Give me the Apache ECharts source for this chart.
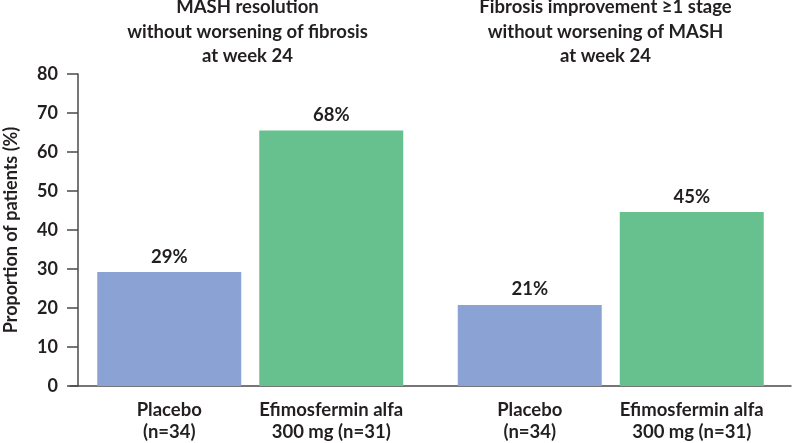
<!DOCTYPE html>
<html>
<head>
<meta charset="utf-8">
<script src="https://cdn.jsdelivr.net/npm/echarts@6/dist/echarts.min.js"></script>
<style>
html,body{margin:0;padding:0;background:#fff;}
#chart{width:798px;height:443px;}
</style>
</head>
<body>
<div id="chart"></div>
<script>
// ---- data ----
var groups = ['MASH resolution\nwithout worsening of fibrosis\nat week 24',
              'Fibrosis improvement ≥1 stage\nwithout worsening of MASH\nat week 24'];
var placeboValues = [29.2, 20.8];
var efimoValues = [65.5, 44.6];
var placeboLabels = ['29%', '21%'];
var efimoLabels = ['68%', '45%'];
var placeboNames = ['Placebo\n(n=34)', 'Placebo\n(n=34)'];
var efimoNames = ['Efimosfermin alfa\n300 mg (n=31)', 'Efimosfermin alfa\n300 mg (n=31)'];
var yTicks = [0, 10, 20, 30, 40, 50, 60, 70, 80];
var yName = 'Proportion of patients (%)';

var FONT = 'Lato';
var INK = '#231f20';
var BLUE = '#8aa3d4';
var GREEN = '#67c18e';

var chart = echarts.init(document.getElementById('chart'), null, {renderer: 'canvas'});

function zeros(n){ var a=[]; for (var i=0;i<n;i++) a.push(0); return a; }

var catLabelStyle = {
  show: true, position: 'bottom', distance: 13,
  color: INK, fontFamily: FONT, fontWeight: 'bold', fontSize: 18.5, lineHeight: 22
};
var valLabelStyle = {
  show: true, position: 'top', distance: 6,
  color: INK, fontFamily: FONT, fontWeight: 'bold', fontSize: 18.5
};

var option = {
  animation: false,
  backgroundColor: '#fff',
  grid: {left: 70, width: 721, top: 74, bottom: 57, containLabel: false, outerBoundsMode: 'none'},
  xAxis: {
    type: 'category',
    data: groups,
    axisLine: {lineStyle: {color: '#4a4a4a', width: 1.5}},
    axisTick: {show: false},
    axisLabel: {show: false}
  },
  yAxis: {
    type: 'value',
    min: yTicks[0], max: yTicks[yTicks.length - 1], interval: 10,
    offset: -8,
    name: yName,
    nameLocation: 'middle',
    nameGap: 58,
    nameTextStyle: {color: INK, fontFamily: FONT, fontWeight: 'bold', fontSize: 18},
    axisLine: {show: true, lineStyle: {color: '#4a4a4a', width: 1.5}},
    axisTick: {show: true, inside: false, length: 11, lineStyle: {color: '#4a4a4a', width: 1.5}},
    axisLabel: {color: INK, fontFamily: FONT, fontWeight: 'bold', fontSize: 18, margin: 20},
    splitLine: {show: false}
  },
  series: [
    {
      name: 'placeboLabel', type: 'bar', stack: 'p', barWidth: 144,
      data: zeros(placeboValues.length),
      itemStyle: {color: BLUE},
      label: Object.assign({}, catLabelStyle, {formatter: function(p){ return placeboNames[p.dataIndex]; }})
    },
    {
      name: 'Placebo', type: 'bar', stack: 'p', barWidth: 144,
      data: placeboValues,
      itemStyle: {color: BLUE},
      label: Object.assign({}, valLabelStyle, {formatter: function(p){ return placeboLabels[p.dataIndex]; }})
    },
    {
      name: 'efimoLabel', type: 'bar', stack: 'e', barWidth: 144,
      data: zeros(efimoValues.length),
      itemStyle: {color: GREEN},
      label: Object.assign({}, catLabelStyle, {formatter: function(p){ return efimoNames[p.dataIndex]; }})
    },
    {
      name: 'Efimosfermin alfa 300 mg', type: 'bar', stack: 'e', barWidth: 144, barGap: '12.5%',
      data: efimoValues,
      itemStyle: {color: GREEN},
      label: Object.assign({}, valLabelStyle, {formatter: function(p){ return efimoLabels[p.dataIndex]; }})
    }
  ],
  graphic: [
    {type: 'text', x: 247.5, y: 32, silent: true,
     style: {text: groups[0], align: 'center', verticalAlign: 'middle', fill: INK,
             fontFamily: FONT, fontWeight: 'bold', fontSize: 18.5, lineHeight: 24.5}},
    {type: 'text', x: 605.5, y: 32, silent: true,
     style: {text: groups[1], align: 'center', verticalAlign: 'middle', fill: INK,
             fontFamily: FONT, fontWeight: 'bold', fontSize: 18.5, lineHeight: 24.5}}
  ]
};
chart.setOption(option);
</script>
</body>
</html>
